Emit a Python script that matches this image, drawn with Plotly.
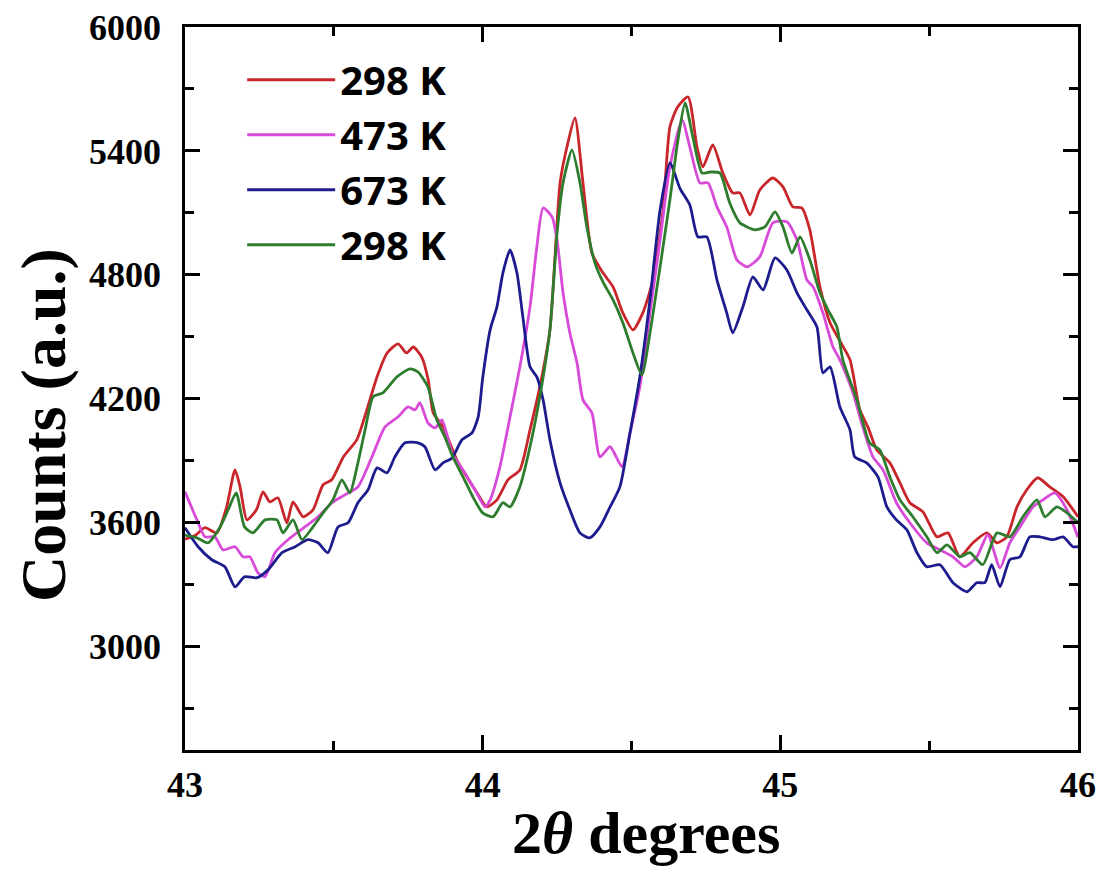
import plotly.graph_objects as go

# ---- data ----
red_x = [43.0, 43.035, 43.067, 43.107, 43.14, 43.168, 43.185, 43.208, 43.24, 43.262, 43.285, 43.312, 43.342, 43.363, 43.397, 43.43, 43.464, 43.493, 43.532, 43.577, 43.611, 43.645, 43.679, 43.716, 43.744, 43.767, 43.795, 43.817, 43.834, 43.867, 43.913, 43.947, 43.981, 44.014, 44.048, 44.085, 44.125, 44.159, 44.192, 44.226, 44.26, 44.283, 44.31, 44.337, 44.367, 44.404, 44.438, 44.471, 44.505, 44.538, 44.572, 44.606, 44.629, 44.655, 44.69, 44.72, 44.74, 44.773, 44.807, 44.84, 44.864, 44.898, 44.931, 44.975, 45.009, 45.042, 45.072, 45.099, 45.133, 45.167, 45.2, 45.234, 45.267, 45.294, 45.324, 45.368, 45.402, 45.435, 45.479, 45.526, 45.563, 45.603, 45.647, 45.694, 45.728, 45.761, 45.795, 45.828, 45.865, 45.905, 45.95, 46.0]
red_y = [3520, 3540, 3576, 3551, 3677, 3856, 3774, 3614, 3663, 3750, 3701, 3721, 3600, 3701, 3629, 3663, 3784, 3808, 3919, 4001, 4147, 4306, 4422, 4466, 4422, 4451, 4403, 4292, 4132, 4064, 3905, 3822, 3745, 3677, 3711, 3808, 3856, 4050, 4258, 4534, 5245, 5419, 5560, 5245, 4906, 4810, 4742, 4616, 4534, 4616, 4776, 5114, 5516, 5613, 5661, 5419, 5323, 5429, 5293, 5197, 5197, 5090, 5211, 5269, 5226, 5129, 5124, 5018, 4742, 4568, 4480, 4389, 4147, 4064, 3953, 3890, 3793, 3697, 3653, 3532, 3551, 3435, 3503, 3551, 3503, 3532, 3677, 3760, 3818, 3774, 3726, 3629]

mag_x = [43.0, 43.04, 43.067, 43.1, 43.128, 43.168, 43.195, 43.218, 43.245, 43.269, 43.302, 43.346, 43.403, 43.447, 43.494, 43.537, 43.581, 43.628, 43.672, 43.716, 43.749, 43.773, 43.789, 43.816, 43.84, 43.863, 43.897, 43.94, 43.974, 44.008, 44.025, 44.058, 44.092, 44.125, 44.159, 44.182, 44.203, 44.233, 44.25, 44.27, 44.293, 44.317, 44.337, 44.367, 44.394, 44.428, 44.468, 44.495, 44.528, 44.562, 44.596, 44.629, 44.67, 44.696, 44.73, 44.757, 44.787, 44.82, 44.854, 44.888, 44.931, 44.975, 45.022, 45.056, 45.089, 45.11, 45.143, 45.177, 45.2, 45.244, 45.277, 45.311, 45.345, 45.39, 45.435, 45.492, 45.536, 45.58, 45.62, 45.66, 45.697, 45.738, 45.771, 45.805, 45.849, 45.882, 45.922, 45.963, 46.0]
mag_y = [3750, 3614, 3532, 3532, 3469, 3484, 3435, 3435, 3358, 3339, 3455, 3518, 3580, 3629, 3697, 3735, 3774, 3919, 4064, 4113, 4161, 4147, 4181, 4084, 4059, 4098, 3939, 3842, 3760, 3677, 3711, 3871, 4113, 4355, 4645, 4935, 5124, 5081, 4969, 4713, 4519, 4374, 4195, 4132, 3919, 3968, 3871, 4035, 4258, 4616, 4969, 5323, 5550, 5419, 5245, 5245, 5129, 5032, 4873, 4839, 4887, 5052, 5057, 4969, 4776, 4742, 4616, 4451, 4389, 4229, 4064, 3919, 3856, 3697, 3600, 3503, 3469, 3435, 3387, 3435, 3542, 3382, 3503, 3580, 3677, 3711, 3745, 3663, 3530]

blue_x = [43.0, 43.044, 43.09, 43.134, 43.168, 43.2, 43.242, 43.279, 43.326, 43.37, 43.413, 43.447, 43.48, 43.514, 43.548, 43.581, 43.615, 43.645, 43.679, 43.705, 43.739, 43.783, 43.806, 43.84, 43.867, 43.897, 43.93, 43.964, 43.985, 44.0, 44.025, 44.048, 44.068, 44.092, 44.115, 44.135, 44.159, 44.182, 44.203, 44.226, 44.26, 44.293, 44.327, 44.36, 44.394, 44.428, 44.461, 44.495, 44.528, 44.562, 44.596, 44.629, 44.663, 44.696, 44.723, 44.753, 44.787, 44.82, 44.84, 44.874, 44.908, 44.942, 44.982, 45.022, 45.056, 45.089, 45.123, 45.143, 45.167, 45.2, 45.234, 45.25, 45.29, 45.328, 45.358, 45.39, 45.425, 45.459, 45.492, 45.536, 45.58, 45.627, 45.66, 45.687, 45.71, 45.738, 45.771, 45.805, 45.838, 45.872, 45.916, 45.95, 45.983, 46.0]
blue_y = [3576, 3484, 3421, 3387, 3290, 3339, 3334, 3372, 3455, 3484, 3518, 3503, 3455, 3580, 3600, 3697, 3760, 3866, 3842, 3919, 3987, 3987, 3968, 3856, 3890, 3914, 4001, 4035, 4113, 4300, 4534, 4645, 4810, 4921, 4810, 4597, 4355, 4306, 4195, 4001, 3793, 3663, 3551, 3527, 3580, 3677, 3774, 4035, 4306, 4679, 5114, 5342, 5218, 5138, 4984, 4984, 4776, 4616, 4519, 4645, 4790, 4727, 4882, 4824, 4713, 4631, 4548, 4326, 4355, 4161, 4050, 3919, 3890, 3822, 3677, 3614, 3566, 3455, 3387, 3397, 3310, 3266, 3310, 3310, 3397, 3290, 3421, 3435, 3532, 3532, 3518, 3532, 3484, 3484]

green_x = [43.0, 43.04, 43.077, 43.118, 43.145, 43.172, 43.2, 43.228, 43.269, 43.309, 43.329, 43.363, 43.393, 43.43, 43.464, 43.497, 43.527, 43.554, 43.578, 43.605, 43.632, 43.665, 43.712, 43.756, 43.783, 43.816, 43.846, 43.873, 43.9, 43.934, 43.967, 44.0, 44.035, 44.068, 44.092, 44.125, 44.159, 44.192, 44.226, 44.25, 44.27, 44.3, 44.327, 44.35, 44.377, 44.404, 44.438, 44.471, 44.505, 44.535, 44.562, 44.596, 44.629, 44.656, 44.68, 44.706, 44.737, 44.764, 44.797, 44.83, 44.864, 44.888, 44.915, 44.948, 44.982, 45.009, 45.039, 45.066, 45.099, 45.133, 45.16, 45.19, 45.21, 45.257, 45.3, 45.334, 45.368, 45.402, 45.445, 45.492, 45.526, 45.56, 45.603, 45.637, 45.68, 45.728, 45.771, 45.815, 45.862, 45.889, 45.929, 45.963, 46.0]
green_y = [3540, 3527, 3503, 3580, 3663, 3745, 3580, 3551, 3614, 3614, 3551, 3614, 3518, 3580, 3648, 3711, 3808, 3745, 3871, 4050, 4210, 4229, 4306, 4345, 4330, 4258, 4098, 4016, 3919, 3822, 3726, 3648, 3629, 3697, 3677, 3774, 3968, 4210, 4534, 5003, 5245, 5405, 5245, 5032, 4858, 4766, 4679, 4568, 4422, 4316, 4519, 4839, 5163, 5453, 5632, 5468, 5293, 5298, 5293, 5148, 5052, 5032, 5018, 5032, 5105, 5032, 4906, 4984, 4873, 4713, 4631, 4548, 4389, 4195, 3987, 3953, 3822, 3711, 3629, 3532, 3455, 3493, 3435, 3455, 3397, 3551, 3532, 3629, 3711, 3629, 3677, 3648, 3600]

series_names = ["298 K", "473 K", "673 K", "298 K"]
series_colors = ["#c8262a", "#d84ad8", "#1c1c8e", "#2e7d2e"]

x_ticks = [43, 44, 45, 46]
y_ticks = [3000, 3600, 4200, 4800, 5400, 6000]

fig = go.Figure()
for xs, ys, name, col in zip([red_x, mag_x, blue_x, green_x],
                             [red_y, mag_y, blue_y, green_y],
                             series_names, series_colors):
    fig.add_trace(go.Scatter(x=xs, y=ys, mode="lines", name=name,
                             line=dict(color=col, width=2.8, shape="spline", smoothing=0.6)))

tickfont = dict(family="Liberation Serif", size=36, color="black", weight="bold")
titlefont = dict(family="Liberation Serif", color="black", weight="bold")

fig.update_layout(
    width=1103, height=870,
    margin=dict(l=185, r=25, t=27, b=120, autoexpand=False),
    paper_bgcolor="white", plot_bgcolor="white",
    showlegend=True,
    legend=dict(x=0.064, y=0.972, xanchor="left", yanchor="top",
                bgcolor="rgba(0,0,0,0)", itemwidth=88,
                font=dict(family="Noto Sans", size=40, color="black", weight="bold"),
                tracegroupgap=0),
    xaxis=dict(range=[43, 46], tickvals=x_ticks, ticktext=[str(v) for v in x_ticks],
               showgrid=False, zeroline=False, showline=True, linecolor="black", linewidth=2.5,
               mirror="ticks", ticks="inside", ticklen=15, tickwidth=2.5, tickcolor="black",
               minor=dict(dtick=0.5, tick0=43, ticks="inside", ticklen=9, tickwidth=2.5, tickcolor="black"),
               tickfont=tickfont, ticklabelstandoff=1, automargin=False),
    yaxis=dict(range=[2500, 6000], tickvals=y_ticks, ticktext=[str(v) for v in y_ticks],
               showgrid=False, zeroline=False, showline=True, linecolor="black", linewidth=2.5,
               mirror="ticks", ticks="inside", ticklen=15, tickwidth=2.5, tickcolor="black",
               minor=dict(dtick=300, tick0=2700, ticks="inside", ticklen=9, tickwidth=2.5, tickcolor="black"),
               tickfont=tickfont, ticklabelstandoff=14, automargin=False),
    annotations=[
        dict(text="Counts (a.u.)", xref="paper", yref="paper", x=-0.159, y=0.4495,
             xanchor="center", yanchor="middle", textangle=-90, showarrow=False,
             font=dict(size=64, **titlefont)),
        dict(text="2<i>θ</i> degrees", xref="paper", yref="paper", x=0.516, y=-0.163,
             xanchor="center", yanchor="bottom", showarrow=False,
             font=dict(size=60, **titlefont)),
    ],
)

fig.write_html("out.html")
